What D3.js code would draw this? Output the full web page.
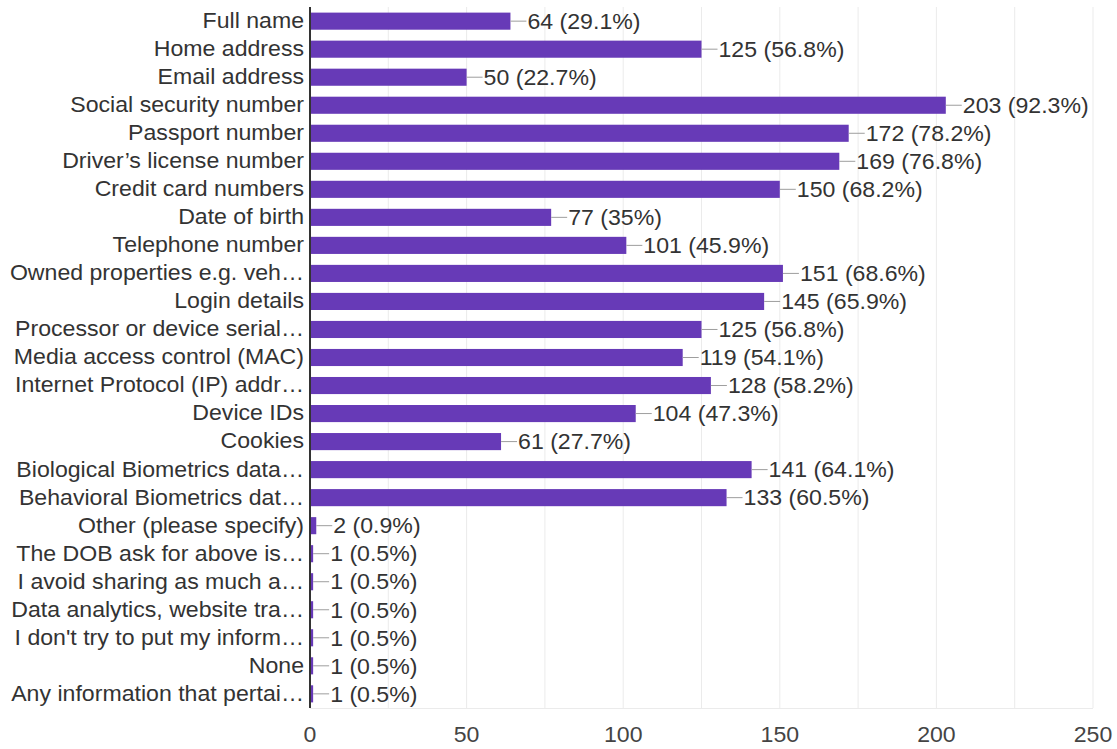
<!DOCTYPE html>
<html>
<head>
<meta charset="utf-8">
<script src="https://cdn.jsdelivr.net/npm/d3@7"></script>
<style>
  html, body { margin: 0; padding: 0; background: #fff; }
  svg { display: block; font-family: "Liberation Sans", Arial, sans-serif; }
</style>
</head>
<body>
<svg id="chart" width="1117" height="749"></svg>
<script>
const categories = [
  "Full name", "Home address", "Email address", "Social security number",
  "Passport number", "Driver\u2019s license number", "Credit card numbers",
  "Date of birth", "Telephone number", "Owned properties e.g. veh\u2026",
  "Login details", "Processor or device serial\u2026", "Media access control (MAC)",
  "Internet Protocol (IP) addr\u2026", "Device IDs", "Cookies",
  "Biological Biometrics data\u2026", "Behavioral Biometrics dat\u2026",
  "Other (please specify)", "The DOB ask for above is\u2026",
  "I avoid sharing as much a\u2026", "Data analytics, website tra\u2026",
  "I don't try to put my inform\u2026", "None", "Any information that pertai\u2026"
];
const counts = [64, 125, 50, 203, 172, 169, 150, 77, 101, 151, 145, 125, 119, 128, 104, 61, 141, 133, 2, 1, 1, 1, 1, 1, 1];
const percents = ["29.1", "56.8", "22.7", "92.3", "78.2", "76.8", "68.2", "35", "45.9", "68.6", "65.9", "56.8", "54.1", "58.2", "47.3", "27.7", "64.1", "60.5", "0.9", "0.5", "0.5", "0.5", "0.5", "0.5", "0.5"];
const majorTicks = [0, 50, 100, 150, 200, 250];
const gridTicks = [25, 50, 75, 100, 125, 150, 175, 200, 225, 250];

const svg = d3.select("#chart");
const plot = { left: 310, right: 1093, top: 7, bottom: 708 };
const fontSize = 21.5;
const stretch = 1.075;   // slightly wide lettering

const x = d3.scaleLinear().domain([0, 250]).range([plot.left, plot.right]);
const y = d3.scaleBand().domain(categories).range([plot.top, plot.bottom]).paddingInner(0.39).paddingOuter(0.2);

// place a text at (ax, ay) with horizontal stretch about its anchor point
function placeText(sel, ax, ay) {
  sel.attr("x", 0).attr("y", 0)
    .attr("transform", (d, i, n) => `translate(${ax(d, i, n)},${ay(d, i, n)}) scale(${stretch},1)`);
}

// grid lines
svg.append("g").selectAll("line").data(gridTicks).join("line")
  .attr("x1", d => x(d)).attr("x2", d => x(d))
  .attr("y1", plot.top).attr("y2", plot.bottom)
  .attr("stroke", "#ebebeb").attr("stroke-width", 1);
svg.append("line")
  .attr("x1", plot.left).attr("x2", plot.right)
  .attr("y1", plot.bottom + 0.5).attr("y2", plot.bottom + 0.5)
  .attr("stroke", "#ebebeb");

const rows = categories.map((c, i) => ({ c, v: counts[i], p: percents[i] }));

// bars
svg.append("g").selectAll("rect").data(rows).join("rect")
  .attr("x", x(0))
  .attr("y", d => y(d.c))
  .attr("width", d => x(d.v) - x(0))
  .attr("height", y.bandwidth())
  .attr("fill", "#673ab7");

// leader lines
svg.append("g").selectAll("line").data(rows).join("line")
  .attr("x1", d => x(d.v)).attr("x2", d => x(d.v) + 16)
  .attr("y1", d => y(d.c) + y.bandwidth() / 2)
  .attr("y2", d => y(d.c) + y.bandwidth() / 2)
  .attr("stroke", "#9e9e9e").attr("stroke-width", 1);

// value labels
svg.append("g").selectAll("text").data(rows).join("text")
  .attr("dy", "0.36em")
  .attr("font-size", fontSize)
  .attr("fill", "#333")
  .text(d => `${d.v} (${d.p}%)`)
  .call(placeText, d => x(d.v) + 17, d => y(d.c) + y.bandwidth() / 2);

// category labels
const yAxis = svg.append("g")
  .attr("transform", `translate(${plot.left},0)`)
  .call(d3.axisLeft(y).tickSize(0).tickPadding(6));
yAxis.select(".domain").remove();
yAxis.selectAll(".tick").attr("transform", null);
yAxis.selectAll("text")
  .attr("font-size", fontSize)
  .attr("font-family", "Liberation Sans, Arial, sans-serif")
  .attr("fill", "#333")
  .call(placeText, () => -6, d => y(d) + y.bandwidth() / 2);

// baseline axis
svg.append("line")
  .attr("x1", plot.left).attr("x2", plot.left)
  .attr("y1", plot.top).attr("y2", plot.bottom)
  .attr("stroke", "#333").attr("stroke-width", 2);

// x tick labels
const xAxis = svg.append("g")
  .attr("transform", `translate(0,${plot.bottom})`)
  .call(d3.axisBottom(x).tickValues(majorTicks).tickSize(0).tickPadding(16));
xAxis.select(".domain").remove();
xAxis.selectAll(".tick").attr("transform", null);
xAxis.selectAll("text")
  .attr("font-size", fontSize)
  .attr("font-family", "Liberation Sans, Arial, sans-serif")
  .attr("fill", "#444")
  .attr("dy", "0.71em")
  .call(placeText, d => x(d), () => 19);
</script>
</body>
</html>
